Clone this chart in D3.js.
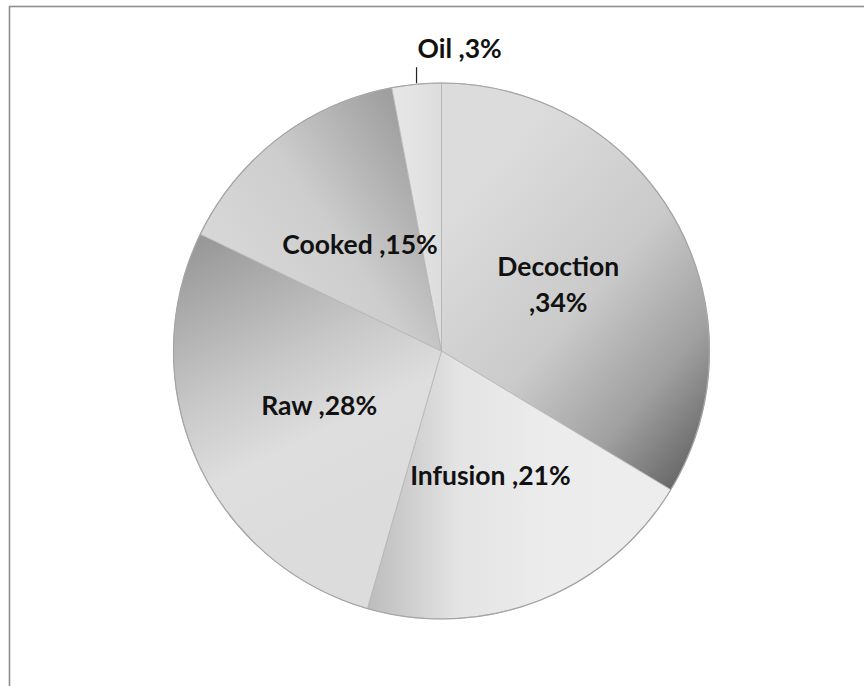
<!DOCTYPE html>
<html>
<head>
<meta charset="utf-8">
<script src="https://cdn.jsdelivr.net/npm/d3@7"></script>
<style>
  html, body { margin: 0; padding: 0; background: #fff; }
  svg { display: block; }
</style>
</head>
<body>
<svg id="chart" width="864" height="686"></svg>
<script>
// Preparation methods and their share of uses (percent)
const categories = ["Decoction", "Infusion", "Raw", "Cooked", "Oil"];
const values = [34, 21, 28, 15, 3];
const labelLines = [["Decoction", ",34%"], ["Infusion ,21%"], ["Raw ,28%"], ["Cooked ,15%"], ["Oil ,3%"]];

// Per-slice shading (bounding-box gradients)
const shades = [
  { x1: 0.25, y1: 0.15, x2: 0.9, y2: 1.0, stops: [[0, "#dcdcdc"], [0.45, "#cacaca"], [0.75, "#a0a0a0"], [1, "#636363"]] },
  { x1: 0.0, y1: 0.5, x2: 1.0, y2: 0.5, stops: [[0, "#bcbcbc"], [0.3, "#e4e4e4"], [0.6, "#ececec"], [1, "#ededed"]] },
  { x1: 0.15, y1: 0.0, x2: 0.45, y2: 0.85, stops: [[0, "#989898"], [0.45, "#c8c8c8"], [0.7, "#dedede"], [1, "#dcdcdc"]] },
  { x1: 0.1, y1: 0.7, x2: 0.9, y2: 0.1, stops: [[0, "#d8d8d8"], [0.45, "#cdcdcd"], [1, "#9a9a9a"]] },
  { x1: 0.0, y1: 0.5, x2: 1.0, y2: 0.5, stops: [[0, "#e6e6e6"], [0.5, "#e3e3e3"], [1, "#dcdcdc"]] }
];

const svg = d3.select("#chart");
const cx = 441.5, cy = 351, radius = 268;

// Chart area frame
svg.append("rect")
  .attr("x", 9.5).attr("y", 6.5)
  .attr("width", 900).attr("height", 720)
  .attr("fill", "none")
  .attr("stroke", "#8e8e8e")
  .attr("stroke-width", 1.6);

const defs = svg.append("defs");
shades.forEach((s, i) => {
  const g = defs.append("linearGradient")
    .attr("id", "shade" + i)
    .attr("x1", s.x1).attr("y1", s.y1).attr("x2", s.x2).attr("y2", s.y2);
  s.stops.forEach(([o, c]) => g.append("stop").attr("offset", o).attr("stop-color", c));
});

const pie = d3.pie().sort(null).value(d => d)(values);
const arc = d3.arc().innerRadius(0).outerRadius(radius);

const g = svg.append("g").attr("transform", `translate(${cx},${cy})`);

g.selectAll("path.slice")
  .data(pie)
  .join("path")
  .attr("class", "slice")
  .attr("d", arc)
  .attr("fill", (d, i) => `url(#shade${i})`)
  .attr("stroke", "#b4b4b4")
  .attr("stroke-width", 0.8)
  .attr("stroke-linejoin", "round");

// Outer rim
g.append("circle")
  .attr("r", radius)
  .attr("fill", "none")
  .attr("stroke", "#a4a4a4")
  .attr("stroke-width", 1.2);

const font = "Lato, 'Open Sans', sans-serif";
const fontSize = 26.5;

// Inside labels at arc centroids
pie.forEach((d, i) => {
  if (i === 4) return;
  const [x, y] = arc.centroid(d);
  const lines = labelLines[i];
  const lh = 36;
  const t = g.append("text")
    .attr("text-anchor", "middle")
    .attr("font-family", font)
    .attr("font-weight", "bold")
    .attr("font-size", fontSize)
    .attr("fill", "#111");
  lines.forEach((ln, k) => {
    t.append("tspan")
      .attr("x", x)
      .attr("y", y + (k - (lines.length - 1) / 2) * lh)
      .attr("dy", "0.35em")
      .text(ln);
  });
});

// Small slice: leader line from the rim and outside label
{
  const d = pie[4];
  const mid = (d.startAngle + d.endAngle) / 2;
  const px = radius * Math.sin(mid), py = -radius * Math.cos(mid);
  g.append("line")
    .attr("x1", px).attr("y1", py - 1)
    .attr("x2", px).attr("y2", py - 17)
    .attr("stroke", "#222").attr("stroke-width", 1.2);
  g.append("text")
    .attr("x", px + 1)
    .attr("y", py - 26)
    .attr("font-family", font)
    .attr("font-weight", "bold")
    .attr("font-size", fontSize)
    .attr("fill", "#111")
    .text(labelLines[4][0]);
}
</script>
</body>
</html>
